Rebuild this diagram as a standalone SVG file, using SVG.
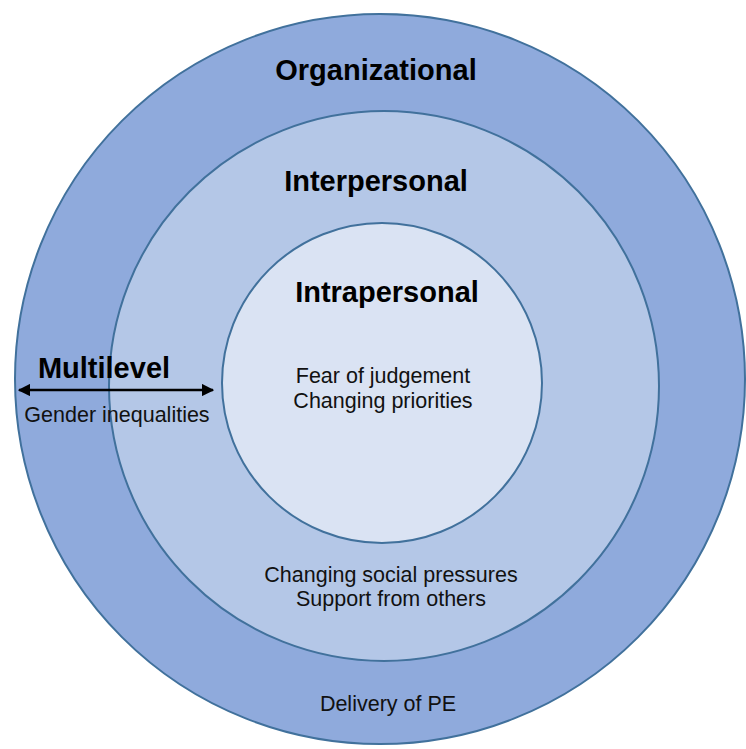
<svg xmlns="http://www.w3.org/2000/svg" width="746" height="749" viewBox="0 0 746 749">
  <style>
    .ring { stroke: #41719C; stroke-width: 2; }
    .head { font-family: "Liberation Sans", Arial, sans-serif; font-weight: bold; font-size: 29px; fill: #000; text-anchor: middle; }
    .body { font-family: "Liberation Sans", Arial, sans-serif; font-size: 21.5px; fill: #111; text-anchor: middle; }
  </style>
  <defs>
    <marker id="arrow" viewBox="0 0 10 10" refX="9" refY="5" markerWidth="5" markerHeight="5" orient="auto-start-reverse" markerUnits="strokeWidth">
      <path d="M0,0 L10,5 L0,10 z" fill="#000"/>
    </marker>
  </defs>
  <rect width="746" height="749" fill="#fff"/>
  <g id="organizational">
    <circle class="ring" cx="380" cy="379" r="365" fill="#8FAADC"/>
    <text class="head" x="376" y="80">Organizational</text>
    <text class="body" x="388" y="711">Delivery of PE</text>
  </g>
  <g id="interpersonal">
    <circle class="ring" cx="384" cy="386" r="275" fill="#B4C7E7"/>
    <text class="head" x="376" y="191">Interpersonal</text>
    <text class="body" x="391" y="582">Changing social pressures</text>
    <text class="body" x="391" y="606">Support from others</text>
  </g>
  <g id="intrapersonal">
    <circle class="ring" cx="382" cy="383" r="160" fill="#DAE3F3"/>
    <text class="head" x="387" y="302">Intrapersonal</text>
    <text class="body" x="383" y="383">Fear of judgement</text>
    <text class="body" x="383" y="408">Changing priorities</text>
  </g>
  <g id="connectors">
    <line x1="19" y1="390" x2="213" y2="390" stroke="#000" stroke-width="2.5" marker-start="url(#arrow)" marker-end="url(#arrow)"/>
  </g>
  <g id="multilevel">
    <text class="head" x="104" y="378">Multilevel</text>
    <text class="body" x="117" y="422">Gender inequalities</text>
  </g>
</svg>
